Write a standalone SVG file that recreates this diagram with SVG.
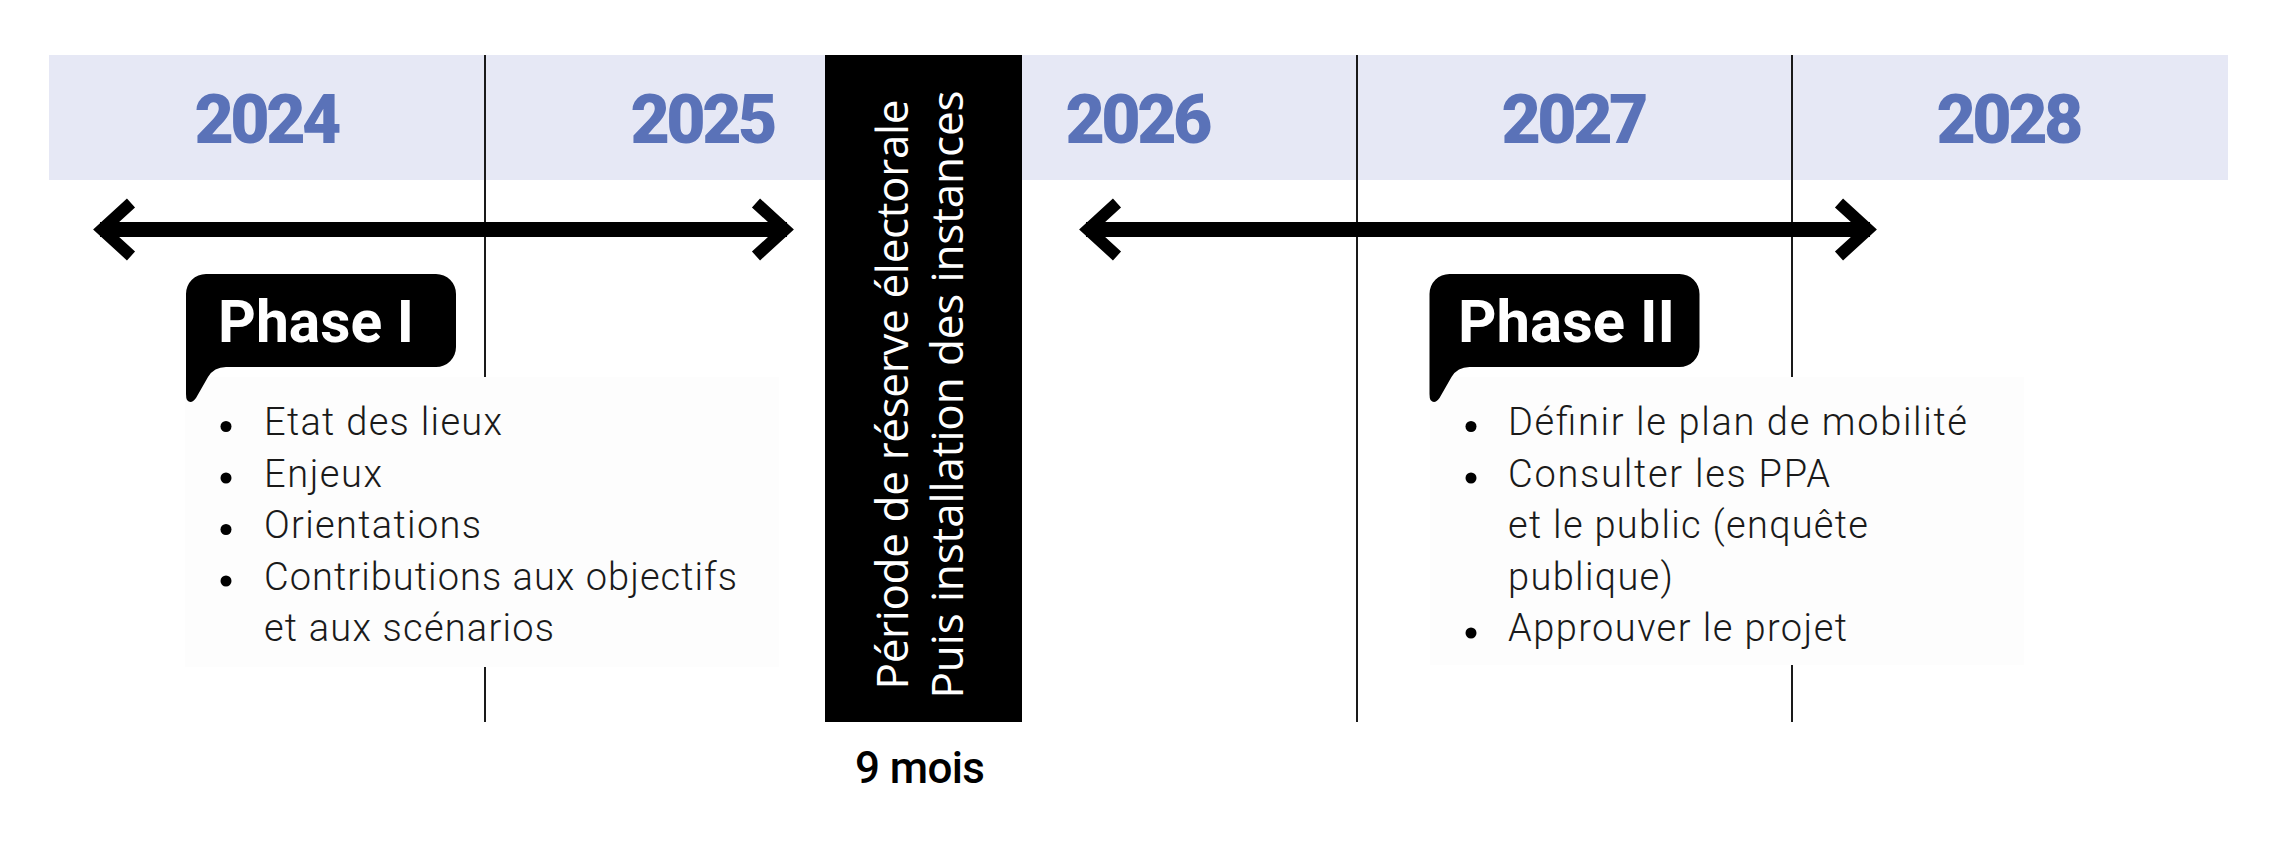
<svg xmlns="http://www.w3.org/2000/svg" width="2280" height="859" viewBox="0 0 2280 859">
  <style>
    .year { font-family: Roboto, "Liberation Sans", sans-serif; font-weight: 900; font-size: 68px; fill: #5A72B8; text-anchor: middle; }
    .grid { stroke: #1a1a1a; stroke-width: 2; }
    .panel { fill: #FDFDFD; }
    .bubble { fill: #000; }
    .phase { font-family: Roboto, "Liberation Sans", sans-serif; font-weight: 700; font-size: 60px; fill: #fff; }
    .item { font-family: Roboto, "Liberation Sans", sans-serif; font-weight: 300; font-size: 38px; fill: #1a1a1a; }
    .dot { fill: #000; }
    .shaft { stroke: #000; stroke-width: 15; fill: none; }
    .head { stroke: #000; stroke-width: 12; fill: none; stroke-linejoin: miter; stroke-miterlimit: 10; stroke-linecap: butt; }
    .vert { font-family: "Open Sans", "DejaVu Sans", sans-serif; font-size: 44px; fill: #fff; text-anchor: middle; }
    .dur { font-family: Roboto, "Liberation Sans", sans-serif; font-weight: 500; font-size: 44px; fill: #000; text-anchor: middle; }
  </style>
  <defs>
    <path id="bubbleShape" d="M206,274 H436 A20,20 0 0 1 456,294 V347 A20,20 0 0 1 436,367 H226 Q214,367 208,377 L196,398 Q191,405 187,400 Q186,398 186,394 V294 A20,20 0 0 1 206,274 Z"/>
  </defs>
  <rect x="0" y="0" width="2280" height="859" fill="#fff"/>

  <g id="band">
    <rect x="49" y="55" width="2179" height="125" fill="#E6E8F5"/>
  </g>

  <g id="years">
    <text id="y2024" class="year" x="268" y="143" textLength="147">2024</text>
    <text id="y2025" class="year" x="704" y="143" textLength="147">2025</text>
    <text id="y2026" class="year" x="1139" y="143" textLength="147">2026</text>
    <text id="y2027" class="year" x="1575" y="143" textLength="147">2027</text>
    <text id="y2028" class="year" x="2010" y="143" textLength="147">2028</text>
  </g>

  <g id="gridlines">
    <line class="grid" x1="485" y1="55" x2="485" y2="722"/>
    <line class="grid" x1="1357" y1="55" x2="1357" y2="722"/>
    <line class="grid" x1="1792" y1="55" x2="1792" y2="722"/>
  </g>

  <g id="connectors">
    <g id="arrow-phase1">
      <line class="shaft" x1="100" y1="229.5" x2="787" y2="229.5"/>
      <path class="head" d="M131,203 L102,229.5 L131,256"/>
      <path class="head" d="M756,203 L785,229.5 L756,256"/>
    </g>
    <g id="arrow-phase2">
      <line class="shaft" x1="1086" y1="229.5" x2="1870" y2="229.5"/>
      <path class="head" d="M1117,203 L1088,229.5 L1117,256"/>
      <path class="head" d="M1839,203 L1868,229.5 L1839,256"/>
    </g>
  </g>

  <g id="phase1">
    <rect class="panel" x="185" y="377" width="594" height="290"/>
    <use href="#bubbleShape" class="bubble"/>
    <text class="phase" x="218" y="341.5" textLength="196" lengthAdjust="spacingAndGlyphs">Phase I</text>
    <circle class="dot" cx="226" cy="426.5" r="5.5"/>
    <circle class="dot" cx="226" cy="478" r="5.5"/>
    <circle class="dot" cx="226" cy="529.5" r="5.5"/>
    <circle class="dot" cx="226" cy="581" r="5.5"/>
    <text class="item" x="264" y="435" textLength="238">Etat des lieux</text>
    <text class="item" x="264" y="486.5" textLength="118">Enjeux</text>
    <text class="item" x="264" y="538" textLength="217">Orientations</text>
    <text class="item" x="264" y="589.5" textLength="473">Contributions aux objectifs</text>
    <text class="item" x="264" y="641" textLength="290">et aux scénarios</text>
  </g>

  <g id="reserve">
    <rect x="825" y="55" width="197" height="667" fill="#000"/>
    <text class="vert" transform="translate(907.5,394.5) rotate(-90)" textLength="590">Période de réserve électorale</text>
    <text class="vert" transform="translate(963,394.5) rotate(-90)" textLength="608">Puis installation des instances</text>
    <text class="dur" x="920" y="783" textLength="130">9 mois</text>
  </g>

  <g id="phase2">
    <rect class="panel" x="1430" y="377" width="594" height="288"/>
    <use href="#bubbleShape" class="bubble" transform="translate(1243.5,0)"/>
    <text class="phase" x="1458" y="341.5" textLength="217" lengthAdjust="spacingAndGlyphs">Phase II</text>
    <circle class="dot" cx="1471" cy="426.5" r="5.5"/>
    <circle class="dot" cx="1471" cy="478" r="5.5"/>
    <circle class="dot" cx="1471" cy="633" r="5.5"/>
    <text class="item" x="1508" y="435" textLength="459">Définir le plan de mobilité</text>
    <text class="item" x="1508" y="486.5" textLength="322">Consulter les PPA</text>
    <text class="item" x="1508" y="538" textLength="360">et le public (enquête</text>
    <text class="item" x="1508" y="589.5" textLength="165">publique)</text>
    <text class="item" x="1508" y="641" textLength="339">Approuver le projet</text>
  </g>
</svg>
